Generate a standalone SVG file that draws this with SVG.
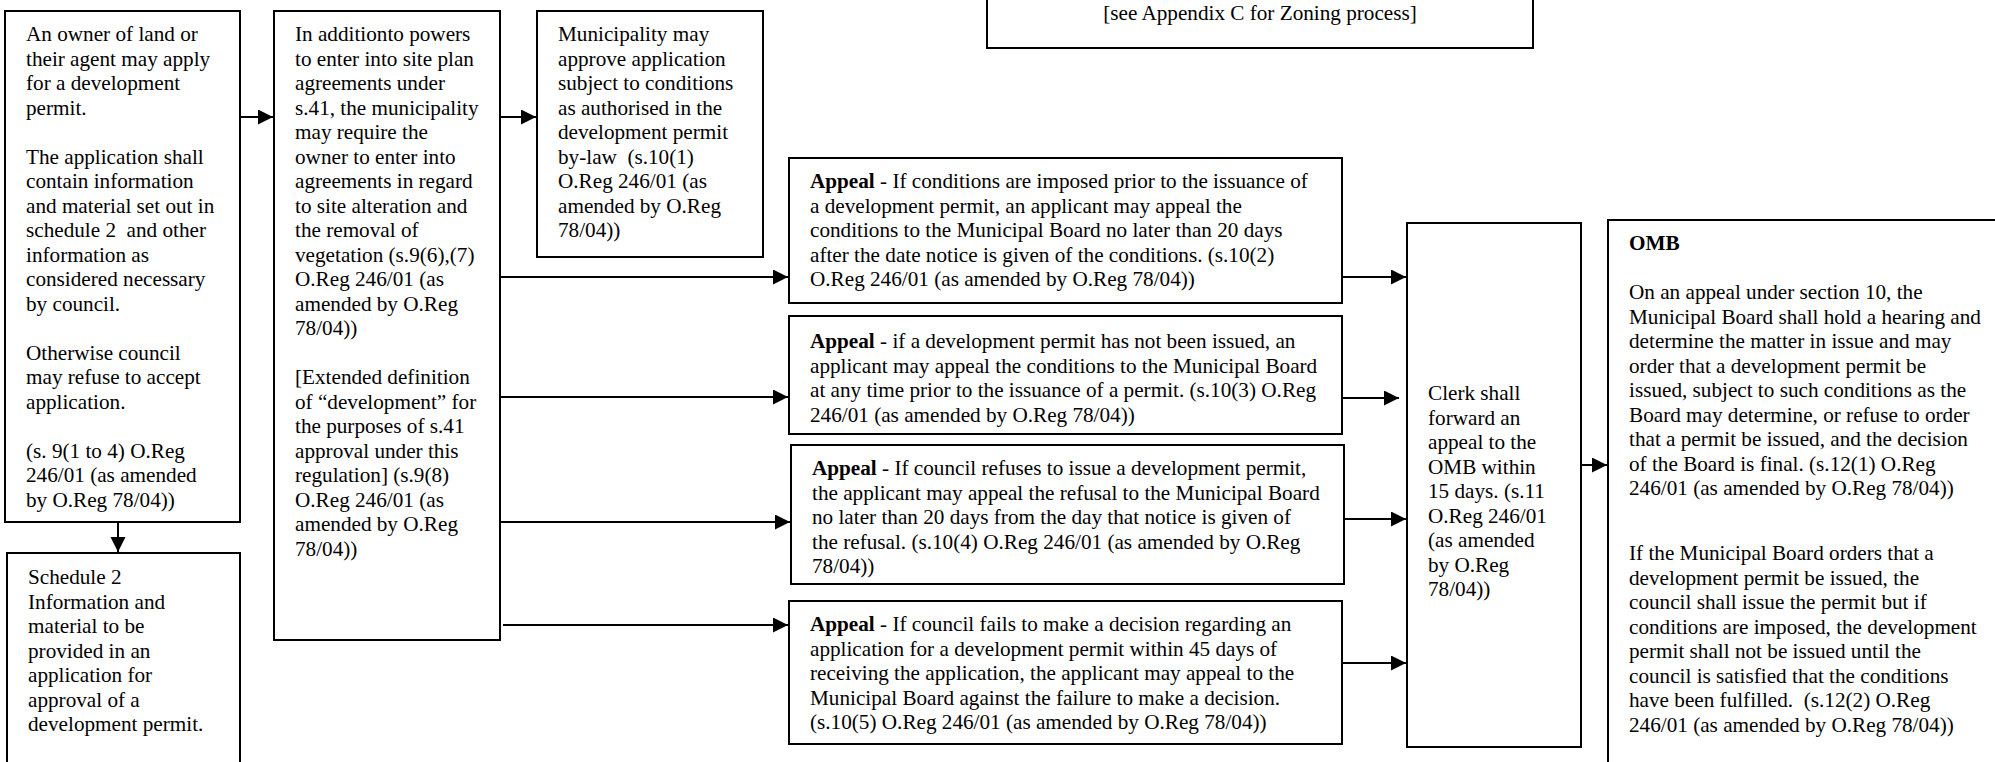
<svg xmlns="http://www.w3.org/2000/svg" width="1995" height="762" viewBox="0 0 1995 762">
<style>
.box{fill:#fff;stroke:#000;stroke-width:2}
text{font-family:"Liberation Serif","Times New Roman",serif;font-size:21.2px;fill:#000}
.b{font-weight:bold}
.c{fill:none;stroke:#000;stroke-width:2}
</style>
<defs>
<marker id="ah" markerUnits="userSpaceOnUse" markerWidth="16" markerHeight="16" refX="15" refY="7.5" orient="auto">
<path d="M0,0 L15,7.5 L0,15 Z" fill="#000"/>
</marker>
</defs>
<rect width="1995" height="762" fill="#fff"/>

<g id="zoning">
<rect class="box" x="987" y="-5" width="546" height="53"/>
<text x="1260" y="20" text-anchor="middle">[see Appendix C for Zoning process]</text>
</g>

<g id="owner">
<rect class="box" x="5" y="11" width="235" height="511"/>
<text x="26" y="41">An owner of land or</text>
<text x="26" y="65.5">their agent may apply</text>
<text x="26" y="90">for a development</text>
<text x="26" y="114.5">permit.</text>
<text x="26" y="163.5">The application shall</text>
<text x="26" y="188">contain information</text>
<text x="26" y="212.5">and material set out in</text>
<text x="26" y="237" xml:space="preserve">schedule 2  and other</text>
<text x="26" y="261.5">information as</text>
<text x="26" y="286">considered necessary</text>
<text x="26" y="310.5">by council.</text>
<text x="26" y="359.5">Otherwise council</text>
<text x="26" y="384">may refuse to accept</text>
<text x="26" y="408.5">application.</text>
<text x="26" y="457.5">(s. 9(1 to 4) O.Reg</text>
<text x="26" y="482">246/01 (as amended</text>
<text x="26" y="506.5">by O.Reg 78/04))</text>
</g>

<g id="schedule2">
<rect class="box" x="7" y="553" width="233" height="220"/>
<text x="28" y="584">Schedule 2</text>
<text x="28" y="608.5">Information and</text>
<text x="28" y="633">material to be</text>
<text x="28" y="657.5">provided in an</text>
<text x="28" y="682">application for</text>
<text x="28" y="706.5">approval of a</text>
<text x="28" y="731">development permit.</text>
</g>

<g id="agreements">
<rect class="box" x="274" y="11" width="226" height="629"/>
<text x="295" y="41">In additionto powers</text>
<text x="295" y="65.5">to enter into site plan</text>
<text x="295" y="90">agreements under</text>
<text x="295" y="114.5">s.41, the municipality</text>
<text x="295" y="139">may require the</text>
<text x="295" y="163.5">owner to enter into</text>
<text x="295" y="188">agreements in regard</text>
<text x="295" y="212.5">to site alteration and</text>
<text x="295" y="237">the removal of</text>
<text x="295" y="261.5">vegetation (s.9(6),(7)</text>
<text x="295" y="286">O.Reg 246/01 (as</text>
<text x="295" y="310.5">amended by O.Reg</text>
<text x="295" y="335">78/04))</text>
<text x="295" y="384">[Extended definition</text>
<text x="295" y="408.5">of “development” for</text>
<text x="295" y="433">the purposes of s.41</text>
<text x="295" y="457.5">approval under this</text>
<text x="295" y="482">regulation] (s.9(8)</text>
<text x="295" y="506.5">O.Reg 246/01 (as</text>
<text x="295" y="531">amended by O.Reg</text>
<text x="295" y="555.5">78/04))</text>
</g>

<g id="approve">
<rect class="box" x="537" y="11" width="226" height="246"/>
<text x="558" y="41">Municipality may</text>
<text x="558" y="65.5">approve application</text>
<text x="558" y="90">subject to conditions</text>
<text x="558" y="114.5">as authorised in the</text>
<text x="558" y="139">development permit</text>
<text x="558" y="163.5" xml:space="preserve">by-law  (s.10(1)</text>
<text x="558" y="188">O.Reg 246/01 (as</text>
<text x="558" y="212.5">amended by O.Reg</text>
<text x="558" y="237">78/04))</text>
</g>

<g id="appeal1">
<rect class="box" x="789" y="158" width="553" height="145"/>
<text x="810" y="188"><tspan class="b">Appeal</tspan> - If conditions are imposed prior to the issuance of</text>
<text x="810" y="212.5">a development permit, an applicant may appeal the</text>
<text x="810" y="237">conditions to the Municipal Board no later than 20 days</text>
<text x="810" y="261.5">after the date notice is given of the conditions. (s.10(2)</text>
<text x="810" y="286">O.Reg 246/01 (as amended by O.Reg 78/04))</text>
</g>

<g id="appeal2">
<rect class="box" x="789" y="316" width="553" height="118"/>
<text x="810" y="348"><tspan class="b">Appeal</tspan> - if a development permit has not been issued, an</text>
<text x="810" y="372.5">applicant may appeal the conditions to the Municipal Board</text>
<text x="810" y="397">at any time prior to the issuance of a permit. (s.10(3) O.Reg</text>
<text x="810" y="421.5">246/01 (as amended by O.Reg 78/04))</text>
</g>

<g id="appeal3">
<rect class="box" x="791" y="445" width="553" height="139"/>
<text x="812" y="475"><tspan class="b">Appeal</tspan> - If council refuses to issue a development permit,</text>
<text x="812" y="499.5">the applicant may appeal the refusal to the Municipal Board</text>
<text x="812" y="524">no later than 20 days from the day that notice is given of</text>
<text x="812" y="548.5">the refusal. (s.10(4) O.Reg 246/01 (as amended by O.Reg</text>
<text x="812" y="573">78/04))</text>
</g>

<g id="appeal4">
<rect class="box" x="789" y="601" width="553" height="143"/>
<text x="810" y="631"><tspan class="b">Appeal</tspan> - If council fails to make a decision regarding an</text>
<text x="810" y="655.5">application for a development permit within 45 days of</text>
<text x="810" y="680">receiving the application, the applicant may appeal to the</text>
<text x="810" y="704.5">Municipal Board against the failure to make a decision.</text>
<text x="810" y="729">(s.10(5) O.Reg 246/01 (as amended by O.Reg 78/04))</text>
</g>

<g id="clerk">
<rect class="box" x="1407" y="223" width="174" height="524"/>
<text x="1428" y="400">Clerk shall</text>
<text x="1428" y="424.5">forward an</text>
<text x="1428" y="449">appeal to the</text>
<text x="1428" y="473.5">OMB within</text>
<text x="1428" y="498">15 days. (s.11</text>
<text x="1428" y="522.5">O.Reg 246/01</text>
<text x="1428" y="547">(as amended</text>
<text x="1428" y="571.5">by O.Reg</text>
<text x="1428" y="596">78/04))</text>
</g>

<g id="omb">
<rect class="box" x="1608" y="220" width="400" height="560"/>
<text x="1629" y="250" class="b">OMB</text>
<text x="1629" y="299">On an appeal under section 10, the</text>
<text x="1629" y="323.5">Municipal Board shall hold a hearing and</text>
<text x="1629" y="348">determine the matter in issue and may</text>
<text x="1629" y="372.5">order that a development permit be</text>
<text x="1629" y="397">issued, subject to such conditions as the</text>
<text x="1629" y="421.5">Board may determine, or refuse to order</text>
<text x="1629" y="446">that a permit be issued, and the decision</text>
<text x="1629" y="470.5">of the Board is final. (s.12(1) O.Reg</text>
<text x="1629" y="495">246/01 (as amended by O.Reg 78/04))</text>
<text x="1629" y="560">If the Municipal Board orders that a</text>
<text x="1629" y="584.5">development permit be issued, the</text>
<text x="1629" y="609">council shall issue the permit but if</text>
<text x="1629" y="633.5">conditions are imposed, the development</text>
<text x="1629" y="658">permit shall not be issued until the</text>
<text x="1629" y="682.5">council is satisfied that the conditions</text>
<text x="1629" y="707" xml:space="preserve">have been fulfilled.  (s.12(2) O.Reg</text>
<text x="1629" y="731.5">246/01 (as amended by O.Reg 78/04))</text>
</g>

<g id="connectors">
<line class="c" x1="240" y1="117" x2="273" y2="117" marker-end="url(#ah)"/>
<line class="c" x1="118" y1="522" x2="118" y2="552" marker-end="url(#ah)"/>
<line class="c" x1="500" y1="117" x2="536" y2="117" marker-end="url(#ah)"/>
<line class="c" x1="500" y1="277" x2="788" y2="277" marker-end="url(#ah)"/>
<line class="c" x1="500" y1="397" x2="788" y2="397" marker-end="url(#ah)"/>
<line class="c" x1="500" y1="522" x2="790" y2="522" marker-end="url(#ah)"/>
<line class="c" x1="503" y1="625" x2="788" y2="625" marker-end="url(#ah)"/>
<line class="c" x1="1342" y1="277" x2="1406" y2="277" marker-end="url(#ah)"/>
<line class="c" x1="1342" y1="398" x2="1399" y2="398" marker-end="url(#ah)"/>
<line class="c" x1="1344" y1="519" x2="1406" y2="519" marker-end="url(#ah)"/>
<line class="c" x1="1342" y1="663" x2="1406" y2="663" marker-end="url(#ah)"/>
<line class="c" x1="1581" y1="465" x2="1607" y2="465" marker-end="url(#ah)"/>
</g>
</svg>
